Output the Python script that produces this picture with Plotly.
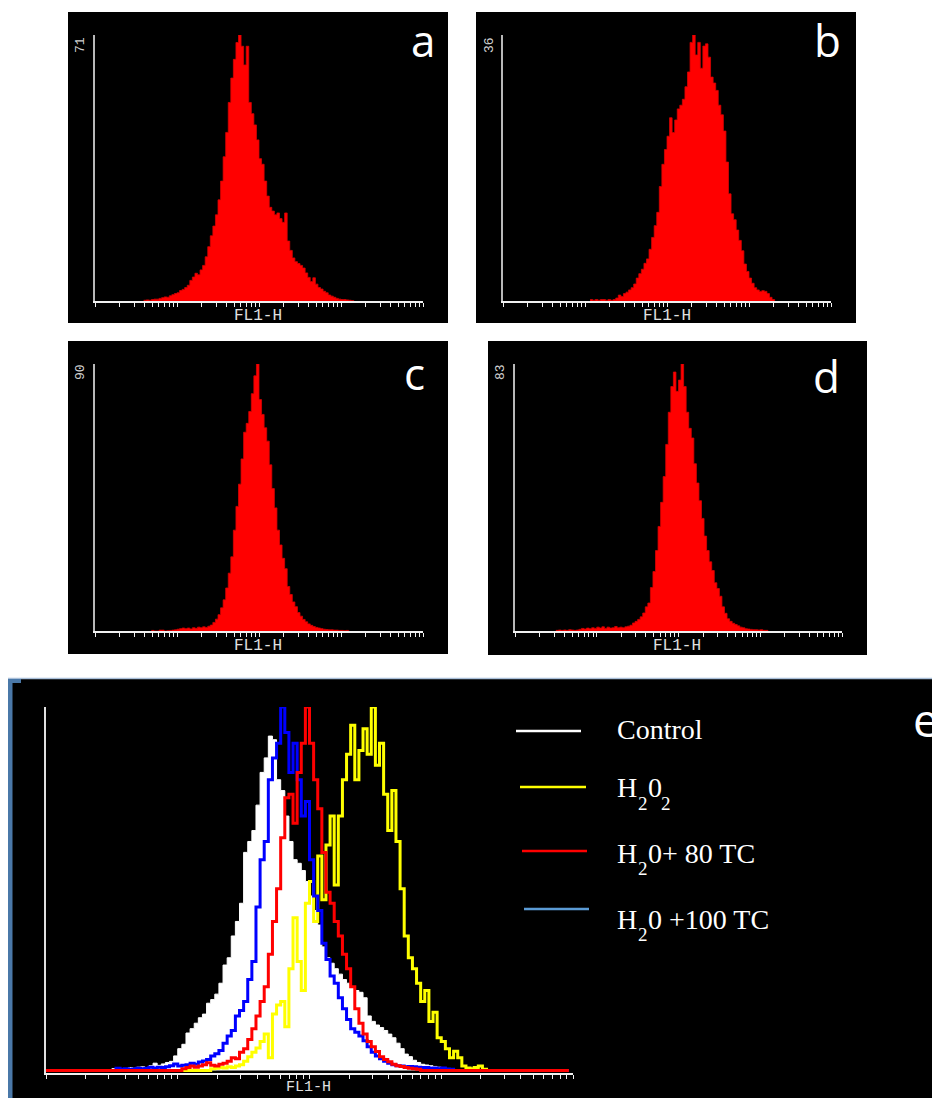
import plotly.graph_objects as go

W, H = 932, 1098

# 1024-channel, 4-decade log scale; histograms shown with 128 bins (8 channels each)
N_BINS = 128
BIN_CHANNELS = [i * 8 for i in range(N_BINS)]

# ---------------- panel a (max 71) ----------------
A_START = 19
A_COUNTS = [0.2, 0.3, 0.2, 0.4, 0.5, 0.5, 0.7, 0.9, 1.1, 1.0, 1.4, 1.7, 2.0, 2.2, 2.8, 3.1, 3.6, 4.2,
            5.5, 6.4, 7.4, 7.0, 8.3, 9.5, 11.8, 14.5, 17.4, 20, 23, 27, 32, 38.5, 45, 53, 59.5, 64.5,
            69, 71, 68, 63, 68, 53, 50, 47, 43, 38, 36.5, 32, 28, 25, 24, 23, 23.5, 22, 21, 23.5, 16,
            13.5, 11.5, 10.5, 10, 9.5, 8.8, 7.5, 6.3, 5.2, 6.2, 4.5, 3.6, 3.2, 2.6, 2.2, 1.6, 1.3,
            1.0, 0.7, 0.5, 0.4, 0.4, 0.3, 0.2, 0.1, 0]
A_MAX = 71

# ---------------- panel b (max 36) ----------------
B_START = 34
B_COUNTS = [0.2, 0.1, 0.2, 0.1, 0.2, 0.2, 0.1, 0.2, 0.1, 0.2, 0.4, 0.8, 0.6, 1.0, 1.2, 1.5, 1.8, 2.3,
            3.1, 3.7, 4.3, 5.1, 5.7, 7.0, 8.6, 10.2, 12.0, 15.5, 18.5, 20.5, 22.3, 24.8, 22.8, 24.5,
            26, 26.5, 27.3, 29, 31, 35, 36, 33.3, 35, 31.5, 34.5, 34.8, 33, 30.3, 29.5, 28.5, 26.5,
            25.2, 23, 18.8, 14.5, 11.8, 11, 9.6, 8.2, 6.8, 5.0, 4.0, 3.1, 2.4, 1.8, 1.5, 1.3, 1.4,
            1.3, 1.0, 0.5, 0.2, 0]
B_MAX = 36

# ---------------- panel c (max 90) ----------------
C_START = 22
C_COUNTS = [0.2, 0, 0, 0.3, 0.3, 0, 0.1, 0.2, 0.3, 0.4, 0.6, 0.8, 1.0, 0.8, 1.0, 0.7, 1.1, 0.9, 1.3,
            1.1, 1.4, 1.2, 1.6, 2.0, 2.9, 4.0, 5.5, 7.8, 10.5, 14.5, 19.5, 25, 34, 42, 49.5, 58, 67,
            70, 74, 80, 86, 90, 78, 73, 68.5, 64, 56, 48, 41.5, 34, 29, 24.5, 21, 15, 12.3, 9.8, 8.2,
            6.2, 5.0, 3.9, 3.1, 2.4, 1.9, 1.5, 1.2, 1.0, 0.8, 0.6, 0.5, 0.4, 0.4, 0.3, 0.3, 0.2,
            0.2, 0.1, 0.2, 0]
C_MAX = 90

# ---------------- panel d (max 83) ----------------
D_START = 16
D_COUNTS = [0.2, 0.3, 0.2, 0.3, 0.2, 0.4, 0.3, 0.2, 0.3, 0.5, 0.8, 0.6, 0.9, 0.7, 1.0, 0.8, 1.2, 0.9,
            1.3, 0.8, 1.2, 0.9, 1.0, 1.4, 1.0, 1.2, 1.0, 1.3, 1.5, 1.8, 2.5, 3.0, 3.6, 4.4, 5.6, 7.5,
            8.7, 13.5, 18.5, 25, 32.5, 40, 48, 58, 68, 76, 80.5, 74.5, 78, 83, 76, 68, 63, 60, 52,
            46, 40.5, 35, 29.5, 25, 21.5, 18.8, 15, 13.2, 10.8, 7.5, 5.5, 3.8, 3.0, 2.4, 2.0, 1.6,
            1.2, 1.0, 0.7, 0.6, 0.5, 0.4, 0.4, 0.3, 0.4, 0.2, 0.2, 0]
D_MAX = 83

# ---------------- panel e overlay (relative counts, peak = 100) ----------------
E_MAX = 100
E_CONTROL_START = 16
E_CONTROL = [0.5, 0.8, 0, 0.5, 0.8, 0.6, 0.9, 1.0, 0.8, 1.3, 2.0, 1.4, 1.8, 2.2, 2.5, 4.0, 6.0, 7.2,
             10.3, 11.5, 13, 14.5, 15.5, 18.5, 19.5, 21, 24, 29, 31, 37, 41, 46, 60, 63, 66, 73, 82,
             86, 92, 91, 80, 77, 70, 63, 58, 57, 55, 52, 48, 44, 40, 34, 31, 29.5, 28, 26.5, 25, 24,
             23, 22, 21.5, 20, 15, 13.5, 12.5, 11.8, 11, 10, 9, 7.5, 6, 4.5, 3.8, 2.8, 2.2, 1.7,
             1.5, 1.3, 1.1, 0.9, 0.6, 0.3, 0]
E_H2O2_START = 40
E_H2O2 = [0.5, 0.6, 0.8, 0.7, 1.0, 0.8, 1.2, 1.6, 2.5, 3.8, 5.0, 6.2, 8.0, 10, 3.5, 15.5, 18, 19, 12,
          28, 42, 30, 22, 46, 52, 41, 59, 47, 62, 70, 51, 70, 80, 87, 95, 80, 88, 94, 87, 100, 84,
          90, 76, 66, 77, 63, 50, 37, 31, 28, 24, 19, 22, 13.5, 16, 9, 8, 6, 3.5, 5.3, 3.5, 1.2,
          0.7, 0.5, 0.8, 1.2, 0.3, 0]
E_TC100_START = 17
E_TC100 = [0.6, 0.3, 0.5, 0.3, 0.4, 0.6, 0.5, 0.6, 0.9, 0.6, 0.9, 0.8, 1.0, 1.3, 1.8, 1.2, 1.4, 1.6,
           2.0, 1.7, 2.3, 2.6, 3.0, 4.0, 4.6, 5.5, 7.5, 9.5, 11, 15, 16.5, 19, 25, 30, 45, 58, 63,
           80, 86, 90, 100, 93, 82, 90, 80, 70, 74, 58, 48, 44, 35, 30.5, 26, 24, 20, 17, 14, 11.5,
           10.5, 9.5, 8.2, 6.5, 5.0, 4.0, 3.2, 2.5, 2.0, 1.6, 1.3, 1.2, 1.0, 1.1, 1.0, 0.9, 0.8,
           0.8, 0.6, 0.7, 0.5, 0.7, 0.4, 0.3, 0]
E_TC80_START = 33
E_TC80 = [0.5, 0.8, 1.2, 0.9, 1.2, 1.6, 2.1, 1.4, 1.2, 1.7, 2.0, 2.5, 3.5, 3.2, 5.0, 6.0, 8.5, 11.5,
          15, 19, 23, 32, 41, 50, 64, 75, 76, 68, 82, 90, 100, 90, 80, 72, 60, 49, 46, 41, 37, 32,
          28, 23, 17, 13, 10, 8, 6.5, 5.2, 3.8, 3.0, 2.4, 1.7, 1.3, 1.1, 0.8, 0.6, 0.5, 0.3, 0]

# legend entries of panel e: pieces of text (text, is_subscript)
LEGEND_PIECES = [
    [("Control", False)],
    [("H", False), ("2", True), ("0", False), ("2", True)],
    [("H", False), ("2", True), ("0+ 80 TC", False)],
    [("H", False), ("2", True), ("0 +100 TC", False)],
]
LEGEND_COLORS = ["#ffffff", "#ffff00", "#ff0000", "#5b9bd5"]
AXIS_LABEL = "FL1-H"


def px(v):
    return v / W


def py(v):
    return 1 - v / H


def channel_x(start, n):
    return [10 ** (c / 256) for c in BIN_CHANNELS[start:start + n]]


def full(start, vals):
    return [0] * start + list(vals) + [0] * (N_BINS - start - len(vals))


fig = go.Figure()

shapes = []
annotations = []

# black panel backgrounds
for (x0, y0, x1, y1) in [(68, 12, 448, 323), (476, 12, 856, 323), (68, 341, 448, 654),
                         (488, 341, 867, 655), (8, 679, 932, 1098)]:
    shapes.append(dict(type="rect", xref="paper", yref="paper", x0=px(x0), x1=px(x1),
                       y0=py(y1), y1=py(y0), fillcolor="black", line=dict(width=0), layer="below"))
# panel e frame accents
shapes.append(dict(type="line", xref="paper", yref="paper", x0=px(8), x1=px(932), y0=py(678.5), y1=py(678.5),
                   line=dict(color="#a9bfd9", width=1.5), layer="below"))
shapes.append(dict(type="rect", xref="paper", yref="paper", x0=px(8), x1=px(12.5), y0=py(1098), y1=py(679),
                   fillcolor="#4a78a8", line=dict(width=0), layer="below"))
shapes.append(dict(type="rect", xref="paper", yref="paper", x0=px(8), x1=px(21), y0=py(683), y1=py(679),
                   fillcolor="#4a78a8", line=dict(width=0), layer="below"))

panels = [
    # name, start, counts, ymax, x-axis px range, y-axis px range, letter pos, max label pos, xlabel pos
    ("a", A_START, A_COUNTS, A_MAX, (95, 423), (35, 301), (423, 40), (80, 45), (258, 316)),
    ("b", B_START, B_COUNTS, B_MAX, (503, 831), (35, 301), (827, 40), (489, 45), (667, 316)),
    ("c", C_START, C_COUNTS, C_MAX, (95, 423), (364, 631), (414, 373), (81, 372), (258, 646)),
    ("d", D_START, D_COUNTS, D_MAX, (515, 842), (364, 631), (826, 376), (501, 372), (677, 646)),
]

layout_axes = {}
for k, (name, start, counts, ymax, (ax0, ax1), (ay0, ay1), lpos, mpos, xlpos) in enumerate(panels, start=1):
    xa = "x" if k == 1 else f"x{k}"
    ya = "y" if k == 1 else f"y{k}"
    fig.add_trace(go.Scatter(
        x=channel_x(start, len(counts)), y=counts, mode="lines",
        line=dict(shape="hv", color="#d80000", width=0.8),
        fill="tozeroy", fillcolor="#ff0000", xaxis=xa, yaxis=ya, hoverinfo="skip"))
    layout_axes["xaxis" if k == 1 else f"xaxis{k}"] = dict(
        domain=[px(ax0), px(ax1)], anchor=ya, type="log", range=[0, 4], dtick="D1",
        showticklabels=False, ticks="outside", ticklen=4, tickwidth=1, tickcolor="#f0f0f0",
        showline=True, linecolor="#f0f0f0", linewidth=1.5, showgrid=False, zeroline=False)
    layout_axes["yaxis" if k == 1 else f"yaxis{k}"] = dict(
        domain=[py(ay1), py(ay0)], anchor=xa, range=[0, ymax], showticklabels=False, ticks="",
        showline=True, linecolor="#b8b8b8", linewidth=1.5, showgrid=False, zeroline=False)
    annotations.append(dict(text=name, x=px(lpos[0]), y=py(lpos[1]), xref="paper", yref="paper",
                            xanchor="center", yanchor="middle", showarrow=False,
                            font=dict(family="Open Sans", size=44, color="white")))
    annotations.append(dict(text=str(ymax), x=px(mpos[0]), y=py(mpos[1]), xref="paper", yref="paper",
                            xanchor="center", yanchor="middle", showarrow=False, textangle=-90,
                            font=dict(family="Liberation Mono", size=13, color="#d0d0d0")))
    annotations.append(dict(text=AXIS_LABEL, x=px(xlpos[0]), y=py(xlpos[1]), xref="paper", yref="paper",
                            xanchor="center", yanchor="middle", showarrow=False,
                            font=dict(family="Liberation Mono", size=16, color="#e0e0e0")))

# panel e overlay
xe = channel_x(0, N_BINS)
e_series = [
    (E_CONTROL_START, E_CONTROL, "#ffffff", True),
    (E_H2O2_START, E_H2O2, "#ffff00", False),
    (E_TC100_START, E_TC100, "#0000ff", False),
    (E_TC80_START, E_TC80, "#ff0000", False),
]
for start, vals, color, filled in e_series:
    fig.add_trace(go.Scatter(
        x=xe, y=full(start, vals), mode="lines",
        line=dict(shape="hv", color=color, width=1 if filled else 3),
        fill="tozeroy" if filled else None, fillcolor=color if filled else None,
        xaxis="x5", yaxis="y5", hoverinfo="skip"))
layout_axes["xaxis5"] = dict(
    domain=[px(46), px(573)], anchor="y5", type="log", range=[0, 4], dtick="D1",
    showticklabels=False, ticks="outside", ticklen=4, tickwidth=1, tickcolor="#f0f0f0",
    showline=True, linecolor="#f0f0f0", linewidth=1.5, showgrid=False, zeroline=False)
layout_axes["yaxis5"] = dict(
    domain=[py(1073), py(707)], anchor="x5", range=[-0.7, E_MAX], showticklabels=False, ticks="",
    showline=True, linecolor="#e0e0e0", linewidth=1.5, showgrid=False, zeroline=False)
annotations.append(dict(text=AXIS_LABEL, x=px(308), y=py(1098), xref="paper", yref="paper",
                        xanchor="center", yanchor="bottom", showarrow=False,
                        font=dict(family="Liberation Mono", size=15, color="#e0e0e0")))
annotations.append(dict(text="e", x=px(911), y=py(719), xref="paper", yref="paper",
                        xanchor="left", yanchor="middle", showarrow=False,
                        font=dict(family="Open Sans", size=46, color="white")))

# legend of panel e
legend_lines = [(516, 581, 731), (520, 586, 787), (522, 587, 851), (524, 589, 909)]
legend_cap_y = [729, 787.5, 853, 919]
piece_x = [616, 637, 647, 660]
for (x0, x1, yl), cy, pieces, color in zip(legend_lines, legend_cap_y, LEGEND_PIECES, LEGEND_COLORS):
    shapes.append(dict(type="line", xref="paper", yref="paper", x0=px(x0), x1=px(x1), y0=py(yl), y1=py(yl),
                       line=dict(color=color, width=2.5)))
    for (txt, is_sub), xx in zip(pieces, piece_x):
        annotations.append(dict(text=txt, x=px(xx - 1), y=py(cy + 15.5 if is_sub else cy),
                                xref="paper", yref="paper", xanchor="left", yanchor="middle",
                                showarrow=False,
                                font=dict(family="Liberation Serif", size=19 if is_sub else 28,
                                          color="white")))

fig.update_layout(
    width=W, height=H, margin=dict(l=0, r=0, t=0, b=0),
    paper_bgcolor="white", plot_bgcolor="rgba(0,0,0,0)", showlegend=False,
    shapes=shapes, annotations=annotations, **layout_axes)

fig.write_html("out.html")
